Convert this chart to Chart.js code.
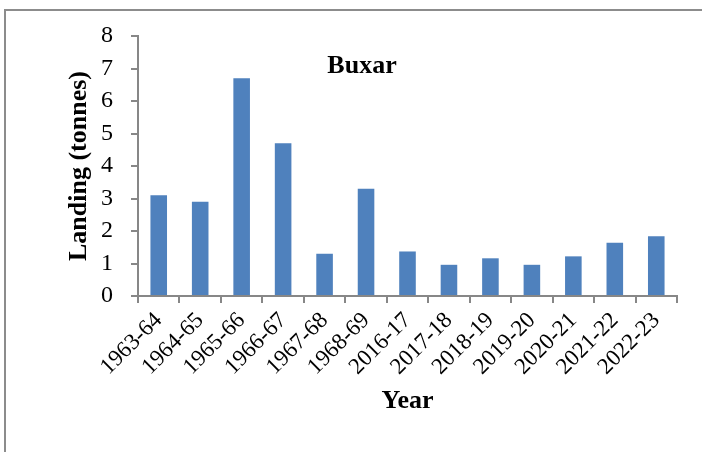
<!DOCTYPE html>
<html>
<head>
<meta charset="utf-8">
<script src="https://cdn.jsdelivr.net/npm/chart.js@4/dist/chart.umd.min.js"></script>
<style>
  html, body { margin: 0; padding: 0; background: #fff; overflow: hidden; }
  #wrap { position: relative; width: 702px; height: 452px; overflow: hidden; }
  #frame { position: absolute; left: 4px; top: 9px; width: 900px; height: 600px; border: 2px solid #8c8c8c; box-sizing: border-box; }
  #c { position: absolute; left: 0; top: 0; }
</style>
</head>
<body>
<div id="wrap">
  <div id="frame"></div>
  <canvas id="c" width="702" height="452"></canvas>
</div>
<script>
const years = ["1963-64","1964-65","1965-66","1966-67","1967-68","1968-69","2016-17","2017-18","2018-19","2019-20","2020-21","2021-22","2022-23"];
const landings = [3.1, 2.9, 6.7, 4.7, 1.3, 3.3, 1.37, 0.96, 1.16, 0.96, 1.22, 1.64, 1.84];
const yTicks = [0, 1, 2, 3, 4, 5, 6, 7, 8];
const panelLabel = "Buxar";
const xTitle = "Year";
const yTitle = "Landing (tonnes)";

const axisGray = '#878787';
const serif = "'Liberation Serif', 'Times New Roman', serif";

const labelPlugin = {
  id: 'panelLabel',
  afterDraw(chart) {
    const a = chart.chartArea;
    const ctx = chart.ctx;
    ctx.save();
    ctx.font = "bold 26px " + serif;
    ctx.fillStyle = '#000';
    ctx.textAlign = 'center';
    ctx.textBaseline = 'middle';
    ctx.fillText(panelLabel, a.left + (a.right - a.left) * 0.4156, a.top + (a.bottom - a.top) * 0.115);
    ctx.restore();
  }
};

new Chart(document.getElementById('c'), {
  type: 'bar',
  data: {
    labels: years,
    datasets: [{
      data: landings,
      backgroundColor: '#4F81BD',
      borderWidth: 0,
      categoryPercentage: 1.0,
      barPercentage: 0.4
    }]
  },
  options: {
    responsive: false,
    animation: false,
    devicePixelRatio: 1,
    layout: { padding: { left: 60, right: 25, top: 36, bottom: 35 } },
    plugins: { legend: { display: false }, tooltip: { enabled: false }, title: { display: false } },
    scales: {
      x: {
        afterFit(scale) { scale.height = 121; },
        grid: { display: true, drawOnChartArea: false, drawTicks: true, tickLength: 7, color: axisGray, lineWidth: 2, offset: true },
        border: { display: true, color: axisGray, width: 2 },
        ticks: { color: '#000', font: { family: serif, size: 23 }, minRotation: 45, maxRotation: 45, padding: 4, autoSkip: false },
        title: { display: true, text: xTitle, color: '#000', font: { family: serif, size: 26, weight: 'bold' }, padding: { top: 0, bottom: 0 } }
      },
      y: {
        min: 0, max: 8,
        afterFit(scale) { scale.width = 78; },
        afterBuildTicks(scale) { scale.ticks = yTicks.map(v => ({ value: v })); },
        grid: { display: true, drawOnChartArea: false, drawTicks: true, tickLength: 7, color: axisGray, lineWidth: 2 },
        border: { display: true, color: axisGray, width: 2 },
        ticks: { color: '#000', font: { family: serif, size: 24 }, padding: 18, stepSize: 1 },
        title: { display: true, text: yTitle, color: '#000', font: { family: serif, size: 26, weight: 'bold' }, padding: { top: 4, bottom: 0 } }
      }
    }
  },
  plugins: [labelPlugin]
});
</script>
</body>
</html>
